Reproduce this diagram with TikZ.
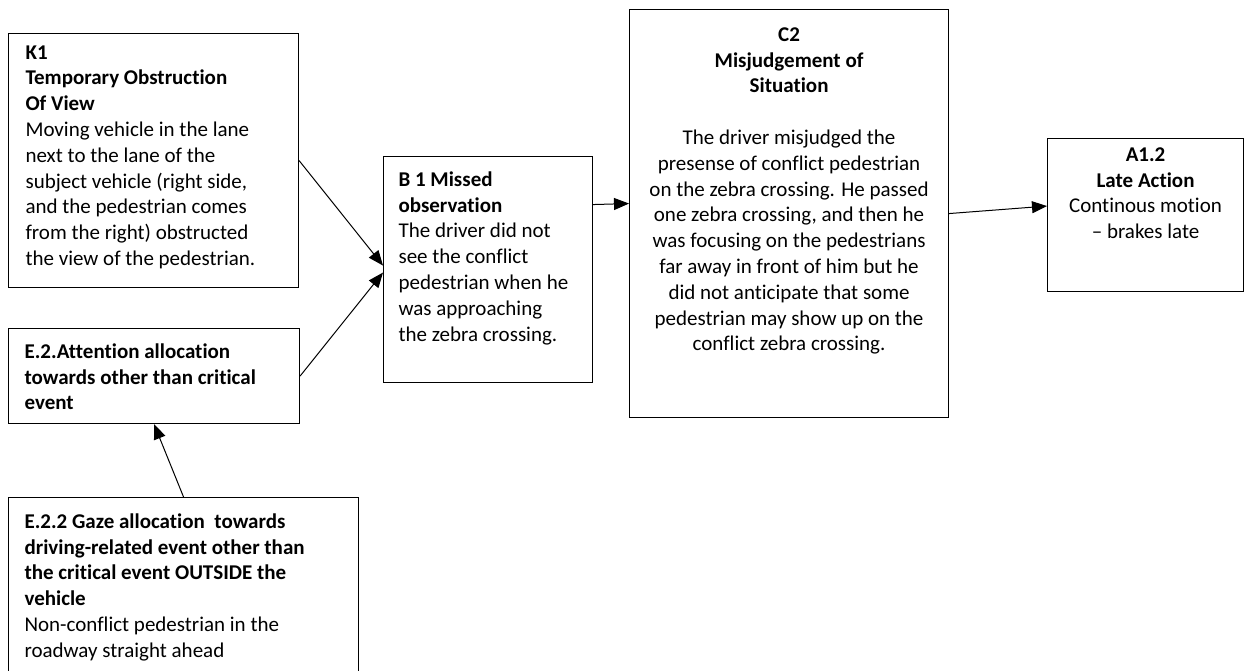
\documentclass[tikz,border=0pt]{standalone}
\usepackage{fontspec}
\setmainfont{Carlito}[Ligatures=CommonOff]
\usetikzlibrary{arrows.meta}
\begin{document}
\begin{tikzpicture}[x=1pt, y=-1pt, >={Triangle[length=15pt,width=12pt]},
  box/.style={draw, line width=1.1pt, anchor=north west, inner sep=0pt, font=\fontsize{21}{25.8}\selectfont},
  link/.style={->, line width=1pt}]
\useasboundingbox (0,0) rectangle (1245,670);
\node[box] (k1) at (8,33) {\parbox[t][254pt][t]{290pt}{\vspace*{12pt}\raggedright\leftskip=17pt
  \textbf{K1\\Temporary Obstruction\\Of View}\\Moving vehicle in the lane\\next to the lane of the\\subject vehicle (right side,\\and the pedestrian comes\\from the right) obstructed\\the view of the pedestrian.}};
\node[box] (e2) at (8,328) {\parbox[t][95pt][t]{291pt}{\vspace*{15pt}\raggedright\leftskip=16pt
  \textbf{E.2.Attention allocation\\towards other than critical\\event}}};
\node[box] (e22) at (8,497) {\parbox[t][200pt][t]{350pt}{\vspace*{16pt}\raggedright\leftskip=16pt
  \textbf{E.2.2 Gaze allocation\ \ towards\\driving-related event other than\\the critical event OUTSIDE the\\vehicle}\\Non-conflict pedestrian in the\\roadway straight ahead}};
\node[box] (b1) at (383,156) {\parbox[t][226pt][t]{209pt}{\vspace*{15pt}\raggedright\leftskip=15pt
  \textbf{B 1 Missed\\observation}\\The driver did not\\see the conflict\\pedestrian when he\\was approaching\\the zebra crossing.}};
\node[box] (c2) at (629,9) {\parbox[t][408pt][t]{319pt}{\vspace*{18pt}\centering
  \textbf{C2\\Misjudgement of\\Situation}\\[25.8pt]The driver misjudged the\\presense of conflict pedestrian\\on the zebra crossing. He passed\\one zebra crossing, and then he\\was focusing on the pedestrians\\far away in front of him but he\\did not anticipate that some\\pedestrian may show up on the\\conflict zebra crossing.}};
\node[box] (a12) at (1047,138) {\parbox[t][153pt][t]{196pt}{\vspace*{9pt}\centering
  \textbf{A1.2\\Late Action}\\Continous motion\\– brakes late}};
\draw[link] (k1.east) -- ([yshift=4pt]b1.west);
\draw[link] (e2.east) -- ([yshift=-3pt]b1.west);
\draw[link] (e22.north) -- (e2.south);
\draw[link] ([yshift=65pt]b1.east) -- ([yshift=10pt]c2.west);
\draw[link] (c2.east) -- ([yshift=9pt]a12.west);
\end{tikzpicture}
\end{document}
